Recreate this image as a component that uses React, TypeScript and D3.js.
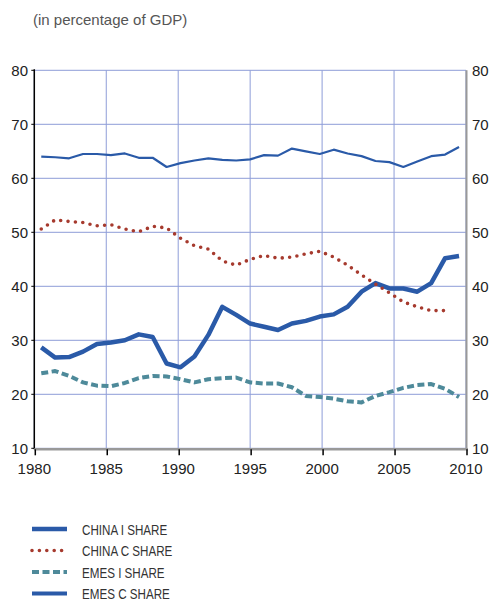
import React from "react";
import * as d3 from "d3";

const years = d3.range(1980, 2011);
const chinaI = [28.7, 26.8, 26.9, 27.9, 29.3, 29.6, 30.0, 31.1, 30.6, 25.7, 25.0, 27.0, 31.0, 36.2, 34.7, 33.1, 32.5, 31.9, 33.1, 33.6, 34.4, 34.8, 36.2, 39.0, 40.6, 39.6, 39.6, 39.0, 40.6, 45.2, 45.6];
const chinaC = [50.6, 52.3, 52.0, 51.8, 51.2, 51.4, 50.6, 50.1, 51.1, 50.8, 48.9, 47.5, 46.9, 44.7, 43.9, 45.0, 45.7, 45.2, 45.4, 46.0, 46.5, 45.4, 43.9, 42.1, 40.4, 38.8, 37.1, 36.2, 35.5, 35.5];
const emesI = [23.9, 24.3, 23.4, 22.2, 21.6, 21.5, 22.1, 23.0, 23.4, 23.3, 22.8, 22.2, 22.8, 23.0, 23.1, 22.2, 22.0, 22.0, 21.3, 19.7, 19.5, 19.2, 18.7, 18.5, 19.7, 20.4, 21.2, 21.7, 21.9, 21.0, 19.5];
const emesC = [64.0, 63.9, 63.7, 64.5, 64.5, 64.3, 64.6, 63.8, 63.8, 62.1, 62.8, 63.3, 63.7, 63.4, 63.3, 63.5, 64.3, 64.2, 65.5, 65.0, 64.5, 65.3, 64.6, 64.1, 63.2, 63.0, 62.1, 63.1, 64.1, 64.4, 65.8];
const yTicks = [10, 20, 30, 40, 50, 60, 70, 80];
const xTicks = [1980, 1985, 1990, 1995, 2000, 2005, 2010];
const title = "(in percentage of GDP)";

const BLUE = "#2a5aa8";
const RED = "#a63a2e";
const TEAL = "#4e8a9a";
const GRID = "#8e9dd8";

const series = [
  { name: "CHINA I SHARE", values: chinaI, color: BLUE, width: 4.5, dash: undefined as string | undefined, cap: "butt" },
  { name: "CHINA C SHARE", values: chinaC, color: RED, width: 3.6, dash: "0 7.4", cap: "round" },
  { name: "EMES I SHARE", values: emesI, color: TEAL, width: 4, dash: "7 3.5", cap: "butt" },
  { name: "EMES C SHARE", values: emesC, color: BLUE, width: 2.2, dash: undefined, cap: "butt" },
];

export default function App() {
  const left = 34.3, right = 466, top = 70.3, bottom = 448.3;
  const y = d3.scaleLinear().domain([10, 80]).range([bottom, top]);
  const xAxis = d3.scaleLinear().domain([1980, 2010]).range([left, right]);
  const xData = d3.scalePoint<number>().domain(years).range([left, right]).padding(0.5);
  const font = "'Liberation Sans', Arial, Helvetica, sans-serif";

  return (
    <svg width={494} height={601} style={{ position: "absolute", left: 0, top: 0 }} fontFamily={font}>
      <text x={33} y={25} fontSize={15} fill="#555">{title}</text>
      {/* grid */}
      {yTicks.map((t) => (
        <line key={"gy" + t} x1={left} x2={right} y1={y(t)} y2={y(t)} stroke={GRID} strokeWidth={1} />
      ))}
      {xTicks.map((t) => (
        <line key={"gx" + t} x1={xAxis(t)} x2={xAxis(t)} y1={top} y2={bottom} stroke={GRID} strokeWidth={1} />
      ))}
      {/* series */}
      {series.map((s) => {
        const line = d3
          .line<number>()
          .x((_, i) => xData(years[i]) as number)
          .y((v) => y(v));
        return (
          <path
            key={s.name}
            d={line(s.values) || ""}
            fill="none"
            stroke={s.color}
            strokeWidth={s.width}
            strokeDasharray={s.dash}
            strokeLinecap={s.cap as any}
            strokeLinejoin="round"
          />
        );
      })}
      {/* axes */}
      <line x1={left} x2={left} y1={top - 1} y2={bottom + 1} stroke="#000" strokeWidth={1.5} />
      {yTicks.map((t) => (
        <line key={"lt" + t} x1={left - 3} x2={left} y1={y(t)} y2={y(t)} stroke="#000" strokeWidth={1} />
      ))}
      <line x1={right + 0.5} x2={right + 0.5} y1={top} y2={bottom + 1} stroke="#999" strokeWidth={2} />
      <line x1={left} x2={right + 2} y1={bottom + 1} y2={bottom + 1} stroke="#999" strokeWidth={2.5} />
      {xTicks.map((t) => (
        <line key={"bt" + t} x1={xAxis(t) + 1} x2={xAxis(t) + 1} y1={bottom + 1} y2={bottom + 7} stroke="#000" strokeWidth={1.5} />
      ))}
      {yTicks.map((t) => (
        <text key={"yl" + t} x={28} y={y(t)} dy="0.35em" textAnchor="end" fontSize={15} fill="#222">{t}</text>
      ))}
      {yTicks.map((t) => (
        <text key={"yr" + t} x={472} y={y(t)} dy="0.35em" textAnchor="start" fontSize={15} fill="#222">{t}</text>
      ))}
      {xTicks.map((t) => (
        <text key={"xl" + t} x={xAxis(t)} y={474} textAnchor="middle" fontSize={15} fill="#222">{t}</text>
      ))}
      {/* legend */}
      {series.map((s, i) => {
        const ly = 529 + i * 21.5;
        return (
          <g key={"lg" + s.name}>
            <line x1={32} x2={67} y1={ly} y2={ly} stroke={s.color} strokeWidth={s.name === "EMES C SHARE" ? 4 : s.width} strokeDasharray={s.dash} strokeLinecap={s.cap as any} />
            <g transform={`translate(82,${ly}) scale(0.75,1)`}>
              <text x={0} y={0} dy="0.36em" fontSize={15.5} fill="#333">{s.name}</text>
            </g>
          </g>
        );
      })}
    </svg>
  );
}
